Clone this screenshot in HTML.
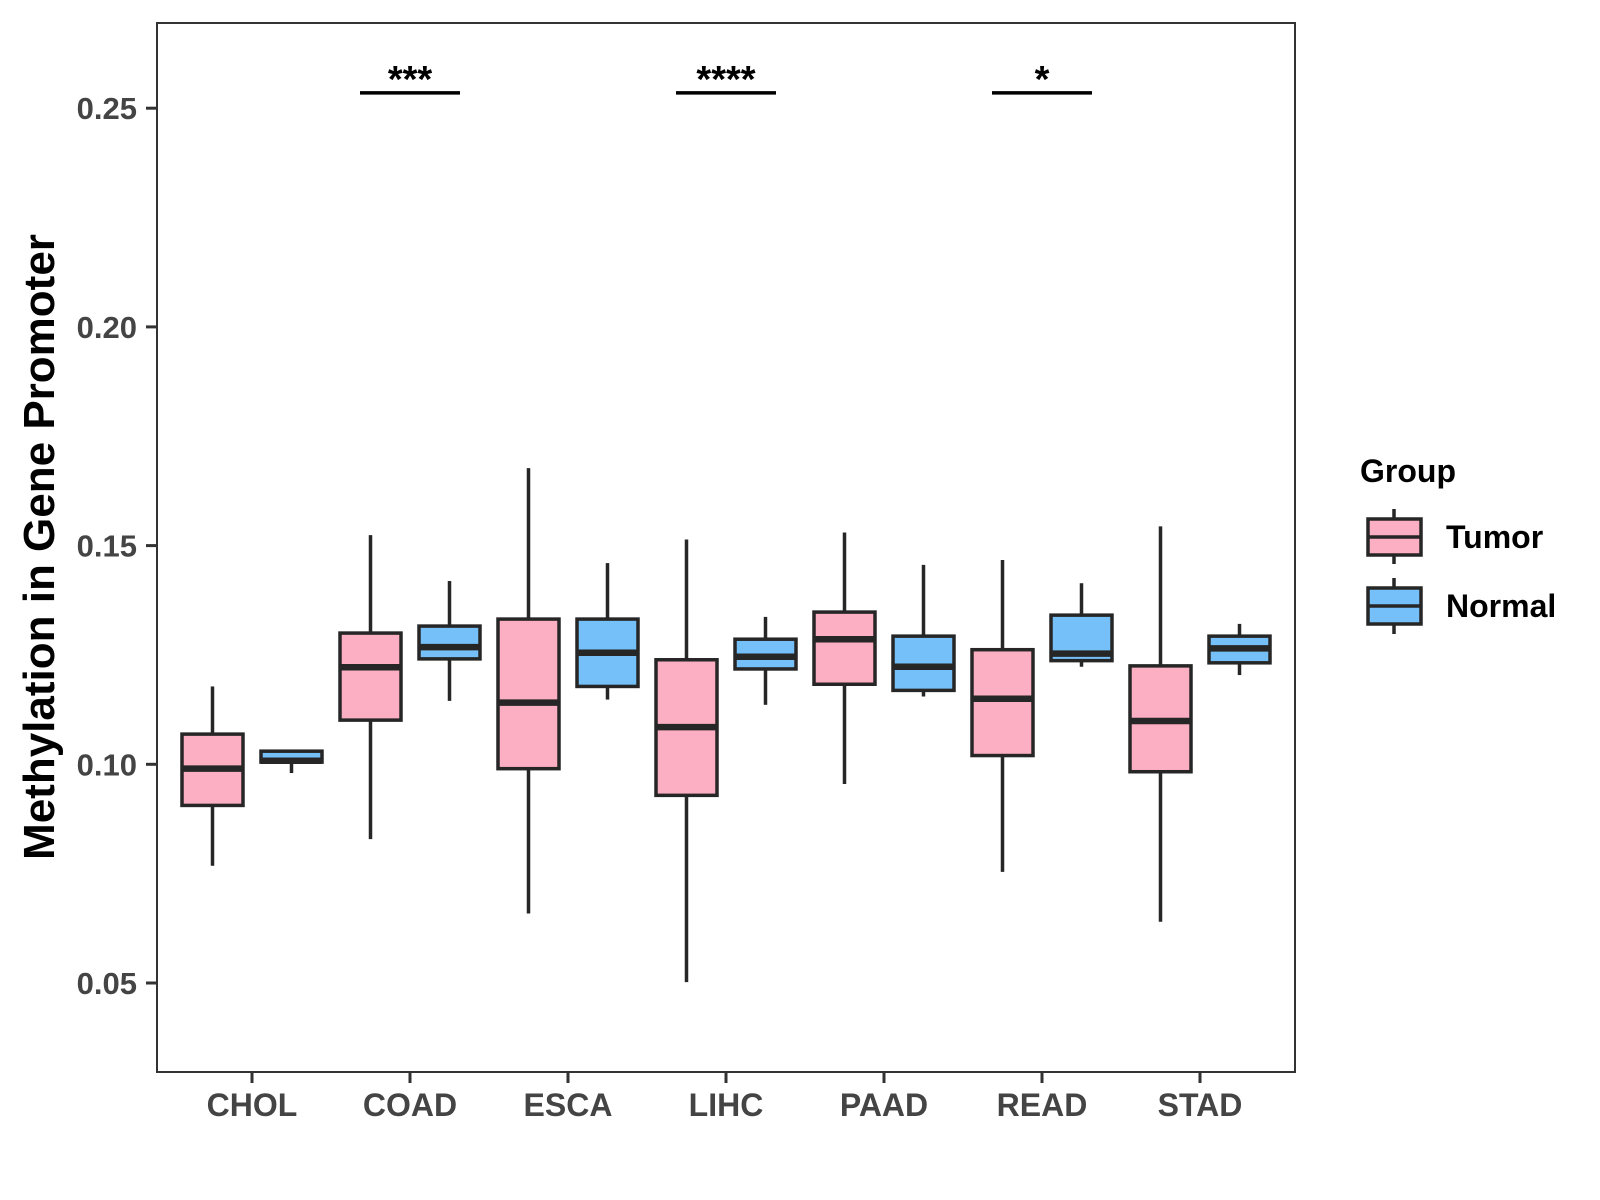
<!DOCTYPE html>
<html><head><meta charset="utf-8"><style>
html,body{margin:0;padding:0;background:#fff;}
svg{display:block;font-family:"Liberation Sans",Arial,sans-serif;}
</style></head><body>
<svg id="chart" width="1600" height="1200" viewBox="0 0 1600 1200">
<rect x="0" y="0" width="1600" height="1200" fill="#fff"/>
<g id="marks"></g>
<rect x="157" y="23" width="1138" height="1049" fill="none" stroke="#333" stroke-width="2"/>
<text transform="translate(54,547) rotate(-90)" text-anchor="middle" font-size="44" font-weight="bold" fill="#000">Methylation in Gene Promoter</text>
<g transform="translate(-8,0)">
<text x="1368" y="482" font-size="32" font-weight="bold" fill="#000">Group</text>
<g>
<line x1="1402" y1="509" x2="1402" y2="564" stroke="#262626" stroke-width="3.5"/>
<rect x="1376" y="519" width="53" height="36" fill="#FCAFC2" stroke="#262626" stroke-width="3.5"/>
<line x1="1376" y1="537" x2="1429" y2="537" stroke="#262626" stroke-width="3.5"/>
<text x="1454" y="548" font-size="32" font-weight="bold" fill="#000">Tumor</text>
</g>
<g>
<line x1="1402" y1="578" x2="1402" y2="634" stroke="#262626" stroke-width="3.5"/>
<rect x="1376" y="588" width="53" height="36" fill="#75C0F8" stroke="#262626" stroke-width="3.5"/>
<line x1="1376" y1="606" x2="1429" y2="606" stroke="#262626" stroke-width="3.5"/>
<text x="1454" y="617" font-size="32" font-weight="bold" fill="#000">Normal</text>
</g>
</g>
</svg>
<script>
const categories = ["CHOL","COAD","ESCA","LIHC","PAAD","READ","STAD"];
const groups = ["Tumor","Normal"];
// [low, q1, median, q3, high]
const tumorStats = [
 [0.0768,0.0906,0.0990,0.1069,0.1178],
 [0.0829,0.1101,0.1222,0.1300,0.1524],
 [0.0659,0.0990,0.1141,0.1332,0.1677],
 [0.0502,0.0929,0.1085,0.1239,0.1514],
 [0.0955,0.1183,0.1286,0.1348,0.1530],
 [0.0754,0.1020,0.1150,0.1262,0.1467],
 [0.0640,0.0983,0.1099,0.1225,0.1544]
];
const normalStats = [
 [0.0980,0.1005,0.1008,0.1030,0.1030],
 [0.1145,0.1241,0.1268,0.1316,0.1419],
 [0.1148,0.1178,0.1255,0.1332,0.1460],
 [0.1136,0.1218,0.1246,0.1286,0.1337],
 [0.1155,0.1169,0.1223,0.1293,0.1456],
 [0.1223,0.1237,0.1253,0.1341,0.1414],
 [0.1204,0.1232,0.1265,0.1293,0.1321]
];
const yTicks = [0.05,0.10,0.15,0.20,0.25];
const yTickLabels = ["0.05","0.10","0.15","0.20","0.25"];
const sigCategories = ["COAD","LIHC","READ"];
const sigLabels = ["***","****","*"];
const sigLevel = 0.2535;

const NS="http://www.w3.org/2000/svg";
const svg=document.getElementById('chart');
const g=document.getElementById('marks');
function y(v){return 983-(v-0.05)*4374;}
function x(i){return 252+158*i;}
function mk(tag,attrs,parent){const e=document.createElementNS(NS,tag);for(const k in attrs)e.setAttribute(k,attrs[k]);(parent||g).appendChild(e);return e;}

yTicks.forEach((t,i)=>{
  const l=mk('line',{x1:146,x2:157,y1:y(t),y2:y(t),stroke:'#333','stroke-width':3},svg);
  
  
  const tx=mk('text',{x:137,y:y(t)+11,'text-anchor':'end','font-size':31,'font-weight':'bold',fill:'#444'},svg);
  tx.textContent=yTickLabels[i];
  
  
});
categories.forEach((c,i)=>{
  const l=mk('line',{x1:x(i),x2:x(i),y1:1072,y2:1083,stroke:'#333','stroke-width':3},svg);
  
  
  const tx=mk('text',{x:x(i),y:1116,'text-anchor':'middle','font-size':32,'font-weight':'bold',fill:'#444'},svg);
  tx.textContent=c;
  
  
});
function box(cx,s,fill,name){
  const grp=mk('g',{});
  
  
  const w=61;
  mk('line',{x1:cx,x2:cx,y1:y(s[4]),y2:y(s[3]),stroke:'#262626','stroke-width':3.5},grp);
  mk('line',{x1:cx,x2:cx,y1:y(s[1]),y2:y(s[0]),stroke:'#262626','stroke-width':3.5},grp);
  mk('rect',{x:cx-w/2,y:y(s[3]),width:w,height:Math.max(1,y(s[1])-y(s[3])),fill:fill,stroke:'#262626','stroke-width':3.5},grp);
  mk('line',{x1:cx-w/2,x2:cx+w/2,y1:y(s[2]),y2:y(s[2]),stroke:'#262626','stroke-width':6.5},grp);
}
categories.forEach((c,i)=>{
  box(x(i)-39.5,tumorStats[i],'#FCAFC2','box-tumor-'+c.toLowerCase());
  box(x(i)+39.5,normalStats[i],'#75C0F8','box-normal-'+c.toLowerCase());
});
sigCategories.forEach((c,k)=>{
  const i=categories.indexOf(c);
  const l=mk('line',{x1:x(i)-50,x2:x(i)+50,y1:y(sigLevel),y2:y(sigLevel),stroke:'#000','stroke-width':3.5});
  
  
  const t=mk('text',{x:x(i),y:y(sigLevel)-1,'text-anchor':'middle','font-size':38,'font-weight':'bold',fill:'#000'});
  t.textContent=sigLabels[k];
  
  
});
</script>
</body></html>
